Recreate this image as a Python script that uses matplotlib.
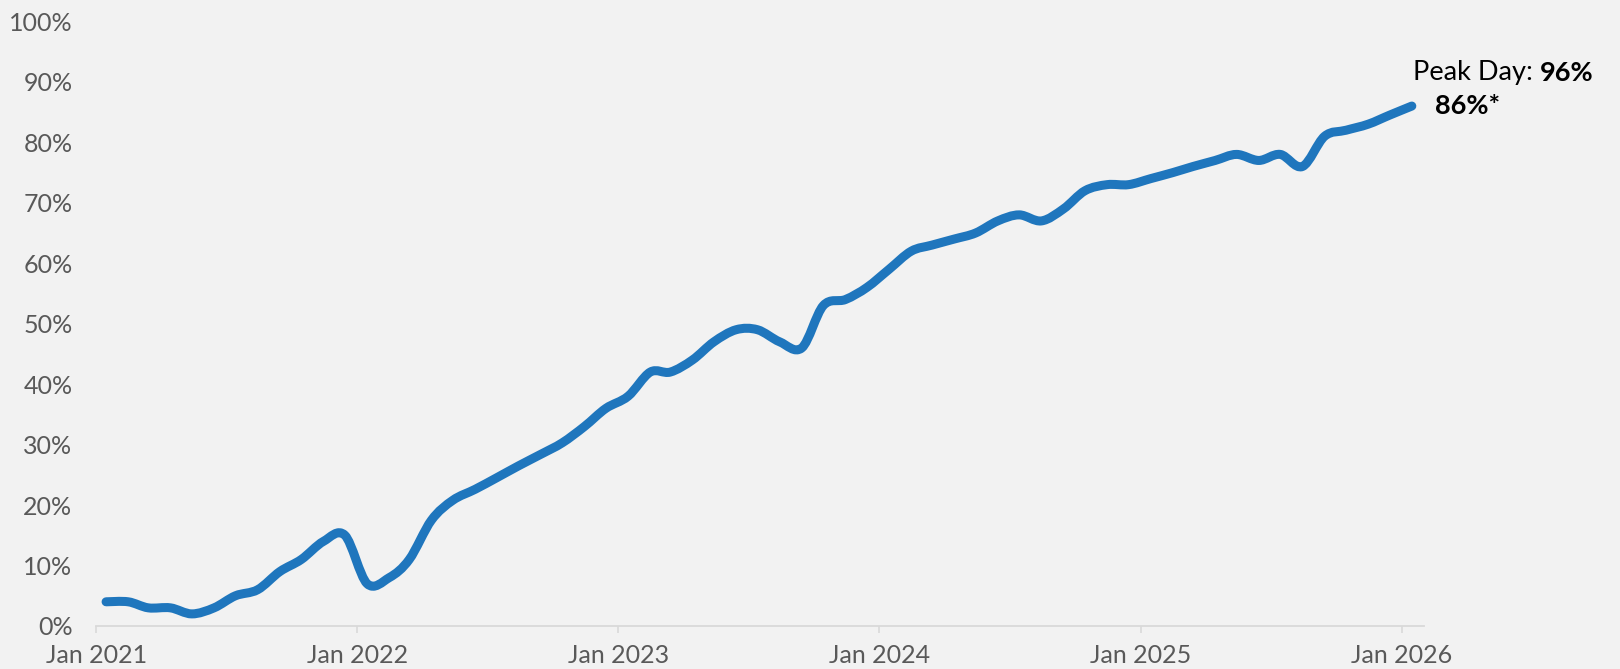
#!/usr/bin/env python3
"""Monthly share line chart, Jan 2021 - Jan 2026, with a peak-day callout."""

from datetime import datetime

import matplotlib
matplotlib.use("Agg")
import matplotlib.dates as mdates
import matplotlib.pyplot as plt
import numpy as np
from matplotlib.patches import PathPatch
from matplotlib.path import Path

# Monthly values (%), one per month from Jan 2021 to Jan 2026
share_pct = [
    4, 4, 3, 3, 2, 3, 5, 6, 9, 11, 14, 15,                      # 2021
    7, 8, 11, 17.5, 20.8, 22.6, 24.5, 26.5, 28.4, 30.3, 33, 36,  # 2022
    38, 42, 42, 44, 47, 49, 49, 47, 46, 53, 54, 56,              # 2023
    59, 62, 63, 64, 65, 67, 68, 67, 69, 72, 73, 73,              # 2024
    74, 75, 76, 77, 78, 77, 78, 76, 81, 82, 83, 84.5,            # 2025
    86,                                                          # Jan 2026
]
months = [datetime(2021 + m // 12, m % 12 + 1, 15) for m in range(len(share_pct))]

peak_day_label = "96%"
latest_label = "86%*"
y_ticks = list(range(0, 101, 10))
x_tick_years = [2021, 2022, 2023, 2024, 2025, 2026]

BG = "#f2f2f2"
LINE = "#1f76bd"
AXIS = "#d9d9d9"
TICK_TEXT = "#595959"

plt.rcParams["font.family"] = ["Lato", "DejaVu Sans"]


def smooth_path(x, y):
    """Catmull-Rom curve through the points, expressed as cubic Bezier segments."""
    x = np.asarray(x, float)
    y = np.asarray(y, float)
    n = len(x)
    # pad the ends by repeating the first/last point
    px = np.concatenate([[x[0]], x, [x[-1]]])
    py = np.concatenate([[y[0]], y, [y[-1]]])
    verts = [(x[0], y[0])]
    codes = [Path.MOVETO]
    for i in range(1, n):
        c1 = (px[i] + (px[i + 1] - px[i - 1]) / 6, py[i] + (py[i + 1] - py[i - 1]) / 6)
        c2 = (px[i + 1] - (px[i + 2] - px[i]) / 6, py[i + 1] - (py[i + 2] - py[i]) / 6)
        verts += [c1, c2, (px[i + 1], py[i + 1])]
        codes += [Path.CURVE4] * 3
    return Path(verts, codes)


fig = plt.figure(figsize=(16.2, 6.69), dpi=100, facecolor=BG)
ax = fig.add_axes([0.0593, 0.0643, 0.8197, 0.9037], facecolor=BG)

xnum = mdates.date2num(months)
curve = PathPatch(smooth_path(xnum, share_pct), facecolor="none", edgecolor=LINE,
                  linewidth=6.5, capstyle="round", joinstyle="round",
                  transform=ax.transData, clip_on=False, zorder=3)
ax.add_patch(curve)

ax.set_xlim(datetime(2021, 1, 1), datetime(2026, 2, 1))
ax.set_ylim(0, 100)

ax.set_xticks([datetime(yr, 1, 1) for yr in x_tick_years])
ax.xaxis.set_major_formatter(mdates.DateFormatter("Jan %Y"))
ax.set_yticks(y_ticks)
ax.set_yticklabels([f"{v}%" for v in y_ticks])

for side in ("top", "right", "left"):
    ax.spines[side].set_visible(False)
ax.spines["bottom"].set_color(AXIS)
ax.spines["bottom"].set_linewidth(1.3)

ax.tick_params(axis="x", length=5, width=1.2, color=AXIS, pad=8,
               labelsize=18, labelcolor=TICK_TEXT)
ax.tick_params(axis="y", length=0, pad=17, labelsize=18, labelcolor=TICK_TEXT)

# Callout at the latest point
last_x, last_y = months[-1], share_pct[-1]
peak = ax.annotate("Peak Day:", xy=(last_x, last_y), xytext=(1, 19),
                   textcoords="offset points", ha="left", va="baseline",
                   fontsize=19.5, color="black", annotation_clip=False)
ax.annotate(peak_day_label, xy=(1, 0), xycoords=peak, xytext=(5, 0),
            textcoords="offset points", ha="left", va="bottom",
            fontsize=19.5, fontweight="bold", color="black", annotation_clip=False)
ax.annotate(latest_label, xy=(last_x, last_y), xytext=(16.5, -6),
            textcoords="offset points", ha="left", va="baseline",
            fontsize=19.5, fontweight="bold", color="black", annotation_clip=False)

fig.savefig("out.png", dpi=100, facecolor=BG)
